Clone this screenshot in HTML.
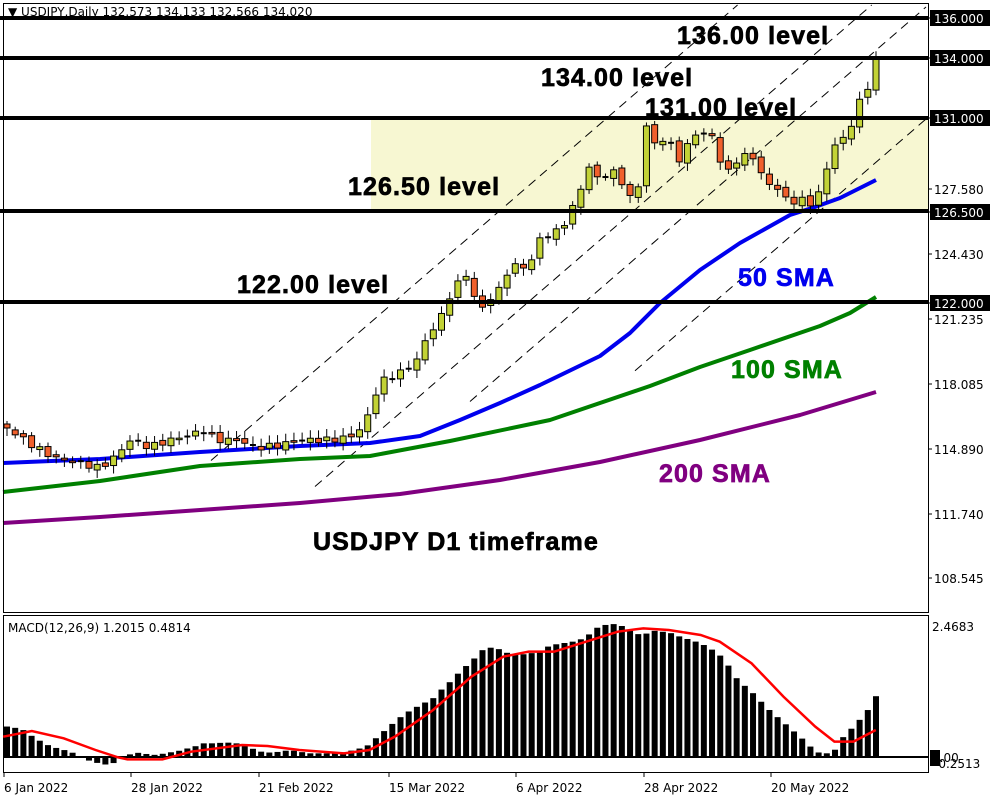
<!DOCTYPE html>
<html><head><meta charset="utf-8">
<style>
html,body{margin:0;padding:0;background:#fff;}
svg{display:block;}
.lv{font-family:"Liberation Sans",Arial,sans-serif;font-weight:bold;font-size:25px;letter-spacing:1.1px;stroke-width:0.7px;}
.ax{font-family:"DejaVu Sans","Liberation Sans",sans-serif;font-size:12px;}
</style></head>
<body>
<svg id="s" width="1000" height="800" xmlns="http://www.w3.org/2000/svg">
<rect x="0" y="0" width="1000" height="800" fill="#fff"/>
<rect x="371" y="118" width="557" height="92" fill="#f7f7d2"/>
<g id="dash" stroke="#000" stroke-width="1" stroke-dasharray="9,6" fill="none"></g>
<g id="ma" fill="none" stroke-width="4" stroke-linejoin="round"></g>
<g id="cand"></g>
<g stroke="#000" stroke-width="4">
<line x1="0" y1="18" x2="928" y2="18"/>
<line x1="0" y1="58" x2="928" y2="58"/>
<line x1="0" y1="118" x2="928" y2="118"/>
<line x1="0" y1="211" x2="928" y2="211"/>
<line x1="0" y1="302" x2="928" y2="302"/>
</g>
<rect x="3.5" y="3.5" width="925" height="609" fill="none" stroke="#000"/>
<rect x="3.5" y="615.5" width="925" height="157" fill="none" stroke="#000"/>
<text x="8" y="16" class="ax" font-size="12">▼ USDJPY,Daily  132.573 134.133 132.566 134.020</text>
<text class="lv" x="677" y="44" stroke="#000">136.00 level</text>
<text class="lv" x="541" y="86" stroke="#000">134.00 level</text>
<text class="lv" x="645" y="116" stroke="#000">131.00 level</text>
<text class="lv" x="348" y="195" stroke="#000">126.50 level</text>
<text class="lv" x="237" y="293" stroke="#000">122.00 level</text>
<text class="lv" x="738" y="286" fill="#0000ee" stroke="#0000ee">50 SMA</text>
<text class="lv" x="731" y="378" fill="#008000" stroke="#008000">100 SMA</text>
<text class="lv" x="659" y="482" fill="#800080" stroke="#800080">200 SMA</text>
<text class="lv" x="313" y="550" stroke="#000">USDJPY D1 timeframe</text>
<g id="axis" class="ax"></g>
<g id="macd"></g>
<text x="8" y="632" class="ax" font-size="12">MACD(12,26,9) 1.2015 0.4814</text>
</svg>
<script>
(function(){
var NS="http://www.w3.org/2000/svg";
function el(t,a,p){var e=document.createElementNS(NS,t);for(var k in a)e.setAttribute(k,a[k]);(p||document.getElementById('s')).appendChild(e);return e;}
function interp(pts,x){if(x<=pts[0][0])return pts[0][1];for(var i=1;i<pts.length;i++){if(x<=pts[i][0]){var a=pts[i-1],b=pts[i];return a[1]+(b[1]-a[1])*(x-a[0])/(b[0]-a[0]);}}return pts[pts.length-1][1];}
var dg=document.getElementById('dash');
[[643,211],[759,315],[808,470],[920,635]].forEach(function(d){var c=d[0],x0=d[1];var x1=Math.min(926,(c-5)/0.865);el('line',{x1:x0,y1:c-0.865*x0,x2:x1,y2:c-0.865*x1},dg);});
var mg=document.getElementById('ma');
function poly(pts,col){var s=pts.map(function(p){return p[0]+','+p[1];}).join(' ');el('polyline',{points:s,stroke:col},mg);}
poly([[3,523],[100,517],[200,510],[300,503],[400,494],[500,480],[600,462],[700,440],[800,415],[876,392]],'#800080');
poly([[3,492],[100,481],[200,466],[300,459],[370,456],[450,441],[550,420],[650,386],[700,367],[750,350],[820,326],[850,313],[876,297]],'#008000');
poly([[3,463],[100,459],[200,452],[300,446],[370,443],[420,436],[460,420],[500,403],[540,385],[600,356],[630,333],[660,303],[700,270],[740,243],[790,215],[815,207],[840,198],[876,180]],'#0000ee');
var kp=[[7,428],[35,447],[55,458],[75,462],[100,468],[117,455],[130,440],[150,447],[170,440],[190,435],[205,430],[215,440],[240,440],[255,448],[280,445],[300,440],[330,440],[350,437],[365,425],[373,400],[380,382],[395,375],[410,367],[420,355],[430,330],[440,322],[447,296],[455,296],[462,265],[470,285],[478,306],[485,310],[493,292],[500,290],[508,270],[515,266],[523,267],[531,262],[538,240],[548,235],[556,232],[563,225],[571,212],[580,190],[590,165],[597,178],[605,175],[613,172],[621,180],[630,198],[637,195],[646,125],[653,145],[660,140],[668,138],[676,158],[683,160],[692,132],[700,135],[708,133],[716,140],[724,178],[732,167],[740,155],[748,157],[756,157],[764,182],[771,186],[780,188],[788,204],[796,200],[804,200],[812,205],[820,190],[828,166],[836,140],[844,140],[852,122],[860,101],[868,87],[876,60]];
var cg=document.getElementById('cand');
var N=107,prev=428,xs=[];
for(var i=0;i<N;i++){var x=7+i*869/106;xs.push(x);var c=interp(kp,x)+Math.sin(i*2.7)*3;var o=prev+Math.sin(i*1.9)*2;if(i==0)o=424;
var tp=Math.min(o,c),bt=Math.max(o,c);var h=tp-3-Math.abs(Math.sin(i*3.1))*5,l=bt+3+Math.abs(Math.cos(i*1.7))*5;
el('line',{x1:x,y1:h,x2:x,y2:l,stroke:'#000','stroke-width':1},cg);
if(bt-tp<1.5){el('line',{x1:x-3,y1:c,x2:x+3,y2:c,stroke:'#000','stroke-width':2},cg);}
else el('rect',{x:x-3,y:tp,width:6,height:bt-tp,fill:(c<o?'#c2d236':'#f0602c'),stroke:'#000','stroke-width':1},cg);
prev=c;}
var mz=[[5,378],[20,382],[35,388],[50,408],[65,425],[80,440],[95,447],[110,455],[120,463],[140,482],[155,490],[170,495],[180,488],[200,465],[215,458],[230,462],[245,465],[265,458],[280,453],[295,445],[305,440],[320,430],[335,430],[350,428],[365,428],[380,433],[395,445],[410,455],[425,458],[440,455],[455,450],[470,455],[485,460],[530,460],[545,455],[560,448],[575,440],[590,415],[605,390],[620,365],[635,342],[650,325],[665,310],[680,295],[695,265],[710,240],[725,208],[740,186],[755,152],[770,143],[785,148],[800,162],[815,165],[830,160],[845,158],[860,140],[875,132],[890,128],[905,123],[920,112],[935,85],[950,75],[965,72],[980,80],[995,100],[1010,105],[1025,92],[1040,95],[1055,100],[1070,112],[1085,120],[1100,130],[1115,145],[1130,165],[1145,200],[1160,245],[1175,265],[1190,295],[1205,325],[1220,350],[1235,375],[1250,400],[1265,425],[1280,455],[1295,462],[1310,452],[1325,408],[1340,380],[1355,348],[1370,312],[1380,268]];
var mp=mz.map(function(p){return [p[0]/1.57,p[1]/3+600];});
var gm=document.getElementById('macd');
var Z=757;
for(var i=0;i<N;i++){var x=xs[i];var y=interp(mp,x);el('rect',{x:x-3,y:Math.min(y,Z),width:6,height:Math.max(1,Math.abs(Z-y)),fill:'#000'},gm);}
el('line',{x1:4,y1:Z,x2:928,y2:Z,stroke:'#000','stroke-width':2},gm);
var sz=[[5,410],[50,393],[100,415],[150,450],[185,472],[200,478],[255,478],[300,455],[380,435],[420,438],[470,450],[540,460],[580,450],[620,410],[680,330],[740,230],[790,170],[830,155],[870,155],[920,125],[970,95],[1010,85],[1050,90],[1100,105],[1130,125],[1180,190],[1230,290],[1280,380],[1310,425],[1340,425],[1375,390]];
el('polyline',{points:sz.map(function(p){return (p[0]/1.57)+','+(p[1]/3+600);}).join(' '),fill:'none',stroke:'#ff0000','stroke-width':2.5},gm);
var ag=document.getElementById('axis');
[[18,'136.000',1],[58,'134.000',1],[118,'131.000',1],[189,'127.580',0],[212,'126.500',1],[254,'124.430',0],[303,'122.000',1],[319,'121.235',0],[384,'118.085',0],[449,'114.890',0],[514,'111.740',0],[578,'108.545',0]].forEach(function(a){
el('line',{x1:928,y1:a[0],x2:932,y2:a[0],stroke:'#000'},ag);
if(a[2]){el('rect',{x:930,y:a[0]-8,width:60,height:16,fill:'#000'},ag);el('text',{x:934,y:a[0]+5,fill:'#fff'},ag).textContent=a[1];}
else el('text',{x:934,y:a[0]+5,fill:'#000'},ag).textContent=a[1];});
el('text',{x:932,y:631},ag).textContent='2.4683';
el('rect',{x:930,y:750,width:10,height:16,fill:'#000'},ag);
el('text',{x:932,y:762},ag).textContent='0.00';
el('text',{x:934,y:768},ag).textContent='-0.2513';
[[3,'6 Jan 2022'],[130,'28 Jan 2022'],[258,'21 Feb 2022'],[388,'15 Mar 2022'],[515,'6 Apr 2022'],[643,'28 Apr 2022'],[770,'20 May 2022']].forEach(function(d){
el('line',{x1:d[0]+1,y1:773,x2:d[0]+1,y2:777,stroke:'#000'},ag);
el('text',{x:d[0]+1,y:792},ag).textContent=d[1];});
})();
</script>
</body></html>
